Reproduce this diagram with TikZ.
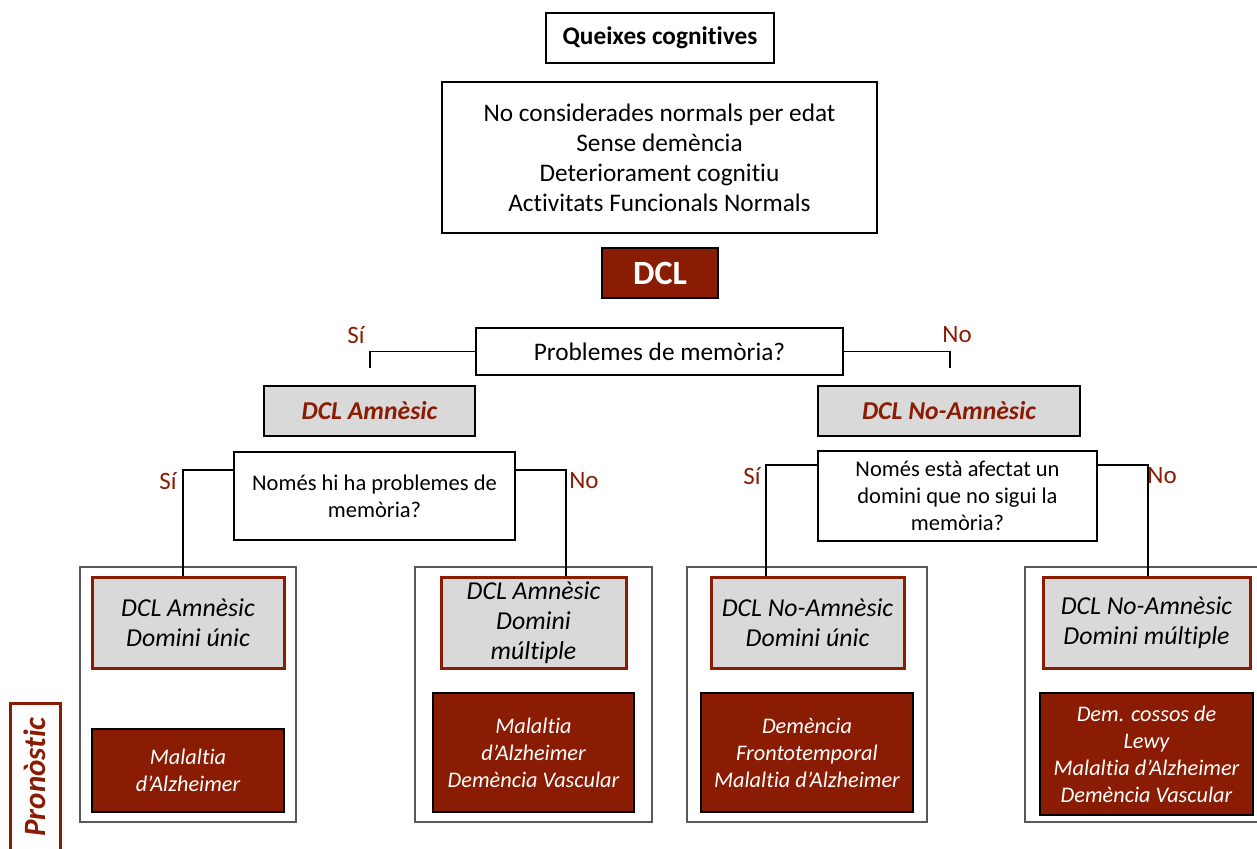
\documentclass[tikz,border=0pt]{standalone}
\usepackage{fontspec}
\setmainfont[Ligatures=NoCommon]{Carlito}
\definecolor{dcred}{RGB}{137,28,2}
\definecolor{dcgray}{RGB}{217,217,217}
\definecolor{dcline}{RGB}{89,89,89}
\begin{document}
\begin{tikzpicture}[x=1pt,y=-1pt,
box/.style={draw=black,line width=2pt,fill=white,inner sep=0pt,align=center,font=\fontsize{25.3}{30}\selectfont},
smallbox/.style={box,font=\fontsize{22.5}{27}\selectfont},
dclbox/.style={box,fill=dcred,text=white,font=\fontsize{34}{40}\selectfont\bfseries},
typebox/.style={box,fill=dcgray,text=dcred,font=\fontsize{25.7}{30}\selectfont\bfseries\itshape},
group/.style={draw=dcline,line width=2.5pt,fill=white,inner sep=0pt},
subtype/.style={box,draw=dcred,line width=3pt,fill=dcgray,font=\fontsize{25.8}{30}\selectfont\itshape},
prog/.style={box,line width=2.5pt,fill=dcred,text=white,font=\fontsize{22.3}{27}\selectfont\itshape},
answer/.style={inner sep=0pt,text=dcred,font=\fontsize{25}{30}\selectfont},
link/.style={draw=black,line width=1.3pt}]
\useasboundingbox (0,0) rectangle (1257,848);
\clip (0,0) rectangle (1257,848);
\node[box,font=\fontsize{25.3}{30}\selectfont\bfseries,minimum width=228pt,minimum height=50pt] (queixes) at (660,38) {Queixes cognitives};
\node[box,minimum width=435pt,minimum height=151pt] (criteris) at (659.5,157.5) {No considerades normals per edat\\Sense demència\\Deteriorament cognitiu\\Activitats Funcionals Normals};
\node[dclbox,minimum width=116pt,minimum height=50pt] (dcl) at (660,273) {DCL};
\node[box,minimum width=367pt,minimum height=47pt] (memoria) at (659.5,351.5) {Problemes de memòria?};
\node[typebox,minimum width=211pt,minimum height=50pt] (amnesic) at (369.5,411) {DCL Amnèsic};
\node[typebox,minimum width=262pt,minimum height=50pt] (noamnesic) at (949,411) {DCL No-Amnèsic};
\node[smallbox,minimum width=281pt,minimum height=88pt] (nomesmem) at (374.5,496) {Només hi ha problemes de\\memòria?};
\node[smallbox,minimum width=279pt,minimum height=90pt] (nomesdom) at (957.5,496) {Només està afectat un\\domini que no sigui la\\memòria?};
\node[group,minimum width=216pt,minimum height=255pt] (grup1) at (188,694.5) {};
\node[group,minimum width=237pt,minimum height=255pt] (grup2) at (533.5,694.5) {};
\node[group,minimum width=240pt,minimum height=255pt] (grup3) at (807,694.5) {};
\node[group,minimum width=260pt,minimum height=255pt] (grup4) at (1155,694.5) {};
\node[subtype,minimum width=192pt,minimum height=91pt] (tipus1) at (188,622.5) {DCL Amnèsic\\Domini únic};
\node[subtype,minimum width=185pt,minimum height=91pt] (tipus2) at (533.5,622.5) {DCL Amnèsic\\Domini\\múltiple};
\node[subtype,minimum width=193pt,minimum height=91pt] (tipus3) at (807.5,622.5) {DCL No-Amnèsic\\Domini únic};
\node[subtype,minimum width=207pt,minimum height=91pt] (tipus4) at (1146.5,622.5) {DCL No-Amnèsic\\Domini múltiple};
\node[prog,minimum width=192pt,minimum height=83pt] (prog1) at (188,770.5) {Malaltia\\d’Alzheimer};
\node[prog,minimum width=201pt,minimum height=119pt] (prog2) at (533.5,752.5) {Malaltia\\d’Alzheimer\\Demència Vascular};
\node[prog,minimum width=212pt,minimum height=119pt] (prog3) at (807,752.5) {Demència\\Frontotemporal\\Malaltia d’Alzheimer};
\node[prog,minimum width=213pt,minimum height=122pt] (prog4) at (1146.5,754) {Dem. cossos de\\Lewy\\Malaltia d’Alzheimer\\Demència Vascular};
\node[box,draw=dcred,line width=3pt,text=dcred,font=\fontsize{31}{36}\selectfont\bfseries\itshape,rotate=90,minimum width=148pt,minimum height=50pt] (pronostic) at (35,777) {Pronòstic};
\node[answer] (si0) at (356,335) {Sí};
\node[answer] (no0) at (957,335) {No};
\node[answer] (si1) at (168,481) {Sí};
\node[answer] (no1) at (584,481) {No};
\node[answer] (si2) at (752,476) {Sí};
\node[answer] (no2) at (1162,476) {No};
\coordinate (finsi0) at (370,368);
\coordinate (finno0) at (950,368);
\coordinate (colze1) at (183,470);
\coordinate (colze2) at (566,470);
\coordinate (colze3) at (766,465);
\coordinate (colze4) at (1148,465);
\draw[link] (memoria.west) -| (finsi0);
\draw[link] (memoria.east) -| (finno0);
\draw[link] (nomesmem.west |- colze1) -- (colze1) -- (colze1 |- tipus1.north);
\draw[link] (nomesmem.east |- colze2) -- (colze2) -- (colze2 |- tipus2.north);
\draw[link] (nomesdom.west |- colze3) -- (colze3) -- (colze3 |- tipus3.north);
\draw[link] (nomesdom.east |- colze4) -- (colze4) -- (colze4 |- tipus4.north);
\end{tikzpicture}
\end{document}
